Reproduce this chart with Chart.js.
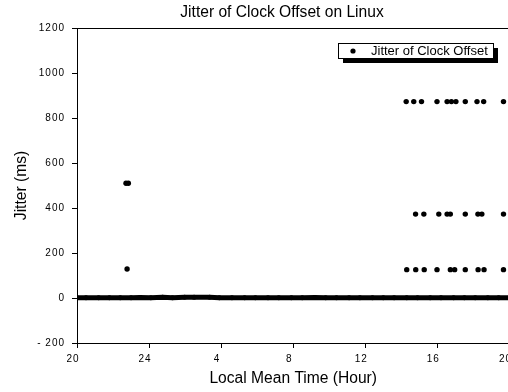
<!DOCTYPE html>
<html>
<head>
<meta charset="utf-8">
<script src="https://cdn.jsdelivr.net/npm/chart.js@4.4.1/dist/chart.umd.min.js"></script>
<style>
html, body { margin: 0; padding: 0; background: #fff; overflow: hidden; }
#wrap { width: 520px; height: 392px; }
</style>
</head>
<body>
<div id="wrap"><canvas id="jitterChart"></canvas></div>
<script>
// hours past 20:00 keep counting past midnight (24 -> 0, 28 -> 4 ...)
var xTickValues = [20, 24, 28, 32, 36, 40, 44];
var xTickLabels = ['20', '24', '4', '8', '12', '16', '20'];
var yTickValues = [-200, 0, 200, 400, 600, 800, 1000, 1200];
var yTickLabels = ['- 200', '0', '200', '400', '600', '800', '1000', '1200'];

// the dense run of samples sitting on zero
var baseHours = [20.0, 20.5, 21.2, 21.8, 22.4, 23.0, 23.5, 24.1, 24.75, 25.3, 25.97, 26.5, 27.36, 27.9,
	28.6, 29.3, 29.9, 30.6, 31.2, 31.9, 32.5, 33.2, 33.8, 34.4, 35.1, 35.7, 36.4, 37.0, 37.6,
	38.3, 38.9, 39.6, 40.2, 40.9, 41.5, 42.1, 42.8, 43.4, 44.0];
var baseJitter = [1, 1, 1, 1, 1, 1, 2, 1, 3, 1, 3, 3, 3, 1,
	1, 1, 1, 1, 1, 1, 1, 2, 1, 1, 1, 1, 1, 1, 1,
	1, 1, 1, 1, 1, 1, 1, 1, 1, 1];

// the spikes
var spikeHours = [22.72, 22.85, 22.78,
	38.27, 38.69, 39.12, 39.98, 40.54, 40.78, 41.03, 41.55, 42.20, 42.57, 43.67,
	38.79, 39.25, 40.08, 40.54, 40.72, 41.55, 42.25, 42.47, 43.67,
	38.30, 38.80, 39.27, 39.98, 40.72, 40.96, 41.55, 42.26, 42.59, 43.67];
var spikeJitter = [510, 510, 129,
	873, 873, 873, 873, 873, 873, 873, 873, 873, 873, 873,
	373, 373, 373, 373, 373, 373, 373, 373, 373,
	126, 126, 126, 126, 126, 126, 126, 126, 126, 126];

var seriesLabel = 'Jitter of Clock Offset';
var chartTitle = 'Jitter of Clock Offset on Linux';
var xTitle = 'Local Mean Time (Hour)';
var yTitle = 'Jitter (ms)';

var FONT = '"Liberation Sans", Arial, sans-serif';

function toPoints(xs, ys){
	return xs.map(function(x, i){ return {x: x, y: ys[i]}; });
}

var decorations = {
	id: 'decorations',
	beforeDraw: function(chart){
		// tick labels in the original are slightly spaced out
		chart.ctx.letterSpacing = '1px';
	},
	afterDraw: function(chart){
		var ctx = chart.ctx, area = chart.chartArea;
		ctx.save();
		ctx.letterSpacing = '0px';
		ctx.fillStyle = '#000';
		ctx.strokeStyle = '#000';
		ctx.lineWidth = 1;

		// top frame line
		ctx.beginPath();
		ctx.moveTo(area.left, Math.round(area.top) + 0.5);
		ctx.lineTo(area.right, Math.round(area.top) + 0.5);
		ctx.stroke();

		ctx.font = '15.6px ' + FONT;
		ctx.textAlign = 'center';
		ctx.textBaseline = 'alphabetic';
		ctx.fillText(chartTitle, 282, 17);
		ctx.fillText(xTitle, (area.left + area.right) / 2, 383);

		ctx.save();
		ctx.translate(26, (area.top + area.bottom) / 2);
		ctx.rotate(-Math.PI / 2);
		ctx.fillText(yTitle, 0, 0);
		ctx.restore();

		// legend box with drop shadow
		var lx = 338, ly = 43, lw = 155, lh = 15;
		ctx.fillRect(lx + 5, ly + 5, lw, lh);
		ctx.fillStyle = '#fff';
		ctx.fillRect(lx, ly, lw, lh);
		ctx.strokeRect(lx + 0.5, ly + 0.5, lw, lh);
		ctx.fillStyle = '#000';
		ctx.beginPath();
		ctx.arc(353, ly + 8, 2.6, 0, Math.PI * 2);
		ctx.fill();
		ctx.font = '13px ' + FONT;
		ctx.textAlign = 'left';
		ctx.textBaseline = 'middle';
		ctx.fillText(seriesLabel, 371, ly + 8);
		ctx.restore();
	}
};

new Chart(document.getElementById('jitterChart'), {
	type: 'scatter',
	data: {
		datasets: [
			{
				label: seriesLabel,
				data: toPoints(baseHours, baseJitter),
				showLine: true,
				borderColor: '#000',
				borderWidth: 5,
				borderJoinStyle: 'round',
				backgroundColor: '#000',
				pointRadius: 2.5,
				pointBorderWidth: 0,
				tension: 0
			},
			{
				label: seriesLabel,
				data: toPoints(spikeHours, spikeJitter),
				backgroundColor: '#000',
				borderColor: '#000',
				pointRadius: 2.7,
				pointBorderWidth: 0
			}
		]
	},
	options: {
		responsive: true,
		maintainAspectRatio: false,
		animation: false,
		devicePixelRatio: 1,
		layout: { padding: { top: 28, right: 9, left: 0, bottom: 0 } },
		plugins: {
			legend: { display: false },
			title: { display: false },
			tooltip: { enabled: false }
		},
		scales: {
			x: {
				type: 'linear',
				min: 20,
				max: 44,
				afterFit: function(scale){ scale.height = 49; },
				afterBuildTicks: function(scale){
					scale.ticks = xTickValues.map(function(v){ return {value: v}; });
				},
				grid: { display: true, drawOnChartArea: false, drawTicks: true, tickLength: 5, color: '#000' },
				border: { display: true, color: '#000', width: 1 },
				ticks: {
					color: '#000',
					font: { family: FONT, size: 10 },
					padding: 5,
					labelOffset: -4,
					maxRotation: 0,
					autoSkip: false,
					callback: function(v){
						var i = xTickValues.indexOf(v);
						return i >= 0 ? xTickLabels[i] : '';
					}
				}
			},
			y: {
				type: 'linear',
				min: -200,
				max: 1200,
				afterFit: function(scale){ scale.width = 77; },
				afterBuildTicks: function(scale){
					scale.ticks = yTickValues.map(function(v){ return {value: v}; });
				},
				grid: { display: true, drawOnChartArea: false, drawTicks: true, tickLength: 5, color: '#000' },
				border: { display: true, color: '#000', width: 1 },
				ticks: {
					color: '#000',
					font: { family: FONT, size: 10 },
					padding: 7,
					autoSkip: false,
					callback: function(v){
						var i = yTickValues.indexOf(v);
						return i >= 0 ? yTickLabels[i] : '';
					}
				}
			}
		}
	},
	plugins: [decorations]
});
</script>
</body>
</html>
